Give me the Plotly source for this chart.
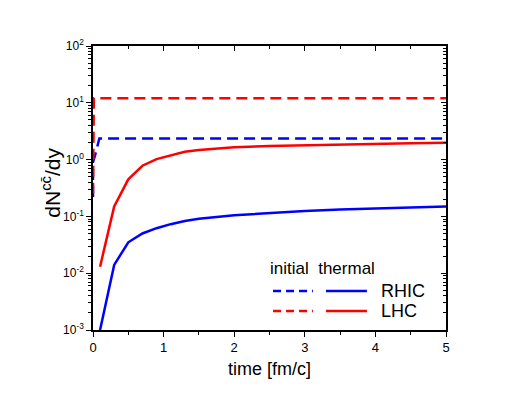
import plotly.graph_objects as go

# thermal production
t_th = [0.1, 0.3, 0.5, 0.7, 0.9, 1.1, 1.3, 1.5, 2.0, 2.5, 3.0, 3.5, 4.0, 4.5, 5.0]
rhic_th = [0.001, 0.014, 0.035, 0.05, 0.062, 0.073, 0.083, 0.091, 0.105, 0.115, 0.124, 0.132, 0.139, 0.145, 0.15]
lhc_th = [0.013, 0.15, 0.45, 0.78, 1.02, 1.2, 1.37, 1.48, 1.65, 1.74, 1.8, 1.85, 1.9, 1.94, 1.98]

# initial production
t_in_rhic = [0.0, 0.0, 0.03, 0.06, 0.09, 5.0]
rhic_in = [0.22, 0.9, 1.2, 1.7, 2.35, 2.35]
t_in_lhc = [0.0, 0.005, 0.012, 5.0]
lhc_in = [0.25, 3.0, 12.0, 12.0]

ytickvals = [1e-3, 1e-2, 1e-1, 1, 10, 100]
yticktext = ["10<sup>-3</sup>", "10<sup>-2</sup>", "10<sup>-1</sup>", "10<sup>0</sup>", "10<sup>1</sup>", "10<sup>2</sup>"]
xtickvals = [0, 1, 2, 3, 4, 5]

BLUE = "#0000ff"
RED = "#ff0000"
FONT = "Liberation Sans, Arial, sans-serif"
DASH = "11px,6px"

fig = go.Figure()
fig.add_trace(go.Scatter(x=t_in_rhic, y=rhic_in, mode="lines",
                         line=dict(color=BLUE, width=2.5, dash=DASH), showlegend=False))
fig.add_trace(go.Scatter(x=t_in_lhc, y=lhc_in, mode="lines",
                         line=dict(color=RED, width=2.5, dash=DASH), showlegend=False))
fig.add_trace(go.Scatter(x=t_th, y=rhic_th, mode="lines",
                         line=dict(color=BLUE, width=2.5), showlegend=False))
fig.add_trace(go.Scatter(x=t_th, y=lhc_th, mode="lines",
                         line=dict(color=RED, width=2.5), showlegend=False))

axis_common = dict(showgrid=False, zeroline=False, showline=True, linecolor="black",
                   linewidth=1.5, tickcolor="black")

fig.update_layout(
    width=518, height=396,
    margin=dict(l=85, r=80, t=38, b=74),
    paper_bgcolor="white", plot_bgcolor="white",
    font=dict(family=FONT, color="black", size=12),
    xaxis=dict(range=[0, 5], tickvals=xtickvals, ticks="outside", ticklen=5,
               minor=dict(dtick=0.5, ticks="outside", ticklen=3, tickcolor="black"),
               tickfont=dict(size=13),
               title=dict(text="time [fm/c]", font=dict(size=18), standoff=8),
               **axis_common),
    yaxis=dict(type="log", range=[-3, 2], tickvals=ytickvals, ticktext=yticktext,
               ticks="outside", ticklen=5,
               minor=dict(dtick="D1", ticks="outside", ticklen=3, tickcolor="black"),
               tickfont=dict(size=12),
               **axis_common),
    xaxis2=dict(range=[0, 5], overlaying="x", side="top", tickvals=xtickvals,
                ticks="inside", ticklen=5, showticklabels=False,
                minor=dict(dtick=0.5, ticks="inside", ticklen=3, tickcolor="black"),
                **axis_common),
    yaxis2=dict(type="log", range=[-3, 2], overlaying="y", side="right", tickvals=ytickvals,
                ticks="inside", ticklen=5, showticklabels=False,
                minor=dict(dtick="D1", ticks="inside", ticklen=3, tickcolor="black"),
                **axis_common),
)
# invisible trace to anchor secondary axes
fig.add_trace(go.Scatter(x=[None], y=[None], xaxis="x2", yaxis="y2", showlegend=False))

# y-axis title
fig.add_annotation(xref="paper", yref="paper", x=-0.118, y=0.52, text="dN<sup>cc\u0304</sup>/dy",
                   textangle=-90, showarrow=False, xanchor="center", yanchor="middle",
                   font=dict(size=21))

# custom legend
fig.add_annotation(xref="paper", yref="paper", x=0.497, y=0.218, text="initial  thermal",
                   showarrow=False, xanchor="left", yanchor="middle", font=dict(size=17))
rows = [("RHIC", BLUE, 0.137), ("LHC", RED, 0.067)]
for name, col, yy in rows:
    fig.add_shape(type="line", xref="paper", yref="paper", x0=0.51, x1=0.623, y0=yy, y1=yy,
                  line=dict(color=col, width=2.5, dash="8px,5px"))
    fig.add_shape(type="line", xref="paper", yref="paper", x0=0.66, x1=0.776, y0=yy, y1=yy,
                  line=dict(color=col, width=2.5))
    fig.add_annotation(xref="paper", yref="paper", x=0.81, y=yy, text=name, showarrow=False,
                       xanchor="left", yanchor="middle", font=dict(size=18))

fig.write_html("out.html")
